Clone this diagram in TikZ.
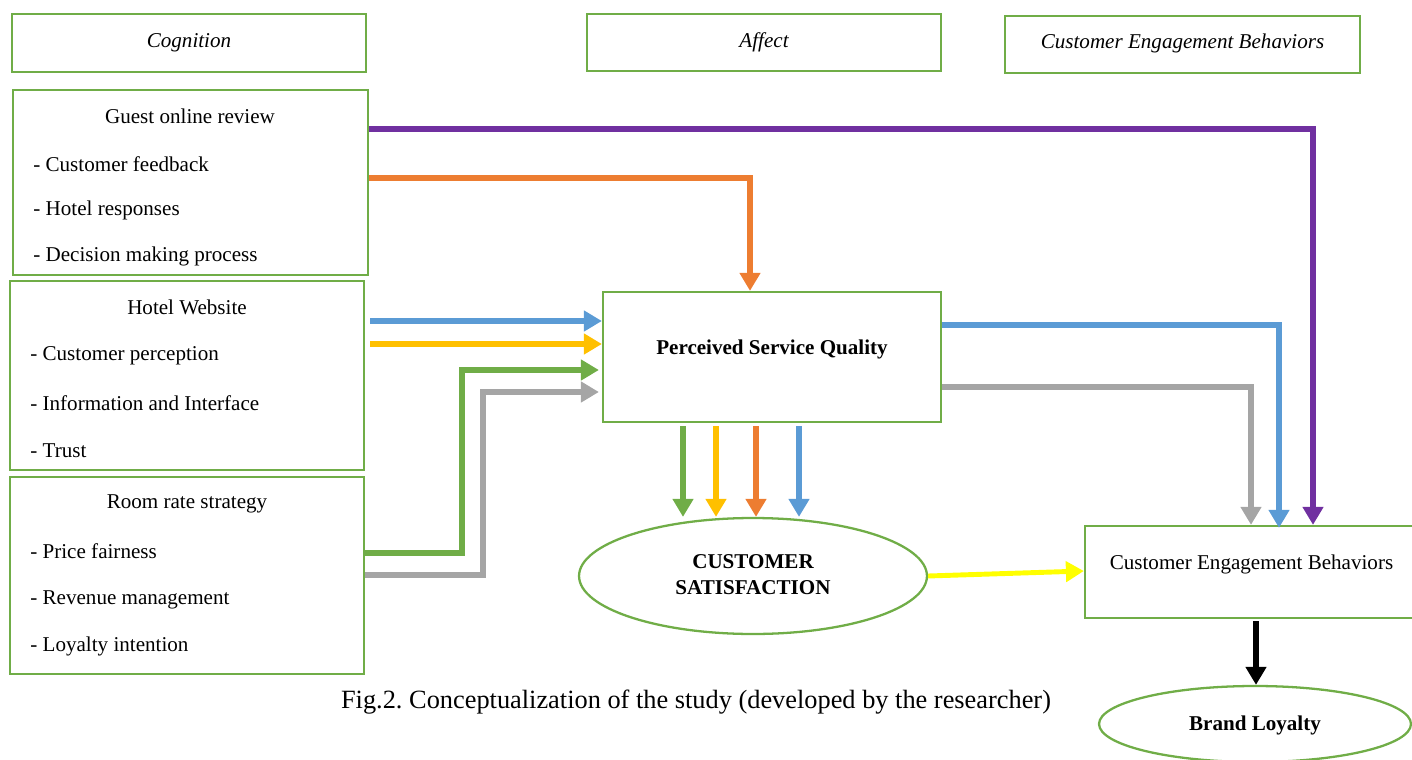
\documentclass[tikz,border=0pt]{standalone}
\usepackage{fontspec}
\setmainfont{Liberation Serif}
\usetikzlibrary{arrows.meta,shapes.geometric}
\definecolor{cgreen}{HTML}{70AD47}
\definecolor{cblue}{HTML}{5B9BD5}
\definecolor{corange}{HTML}{ED7D31}
\definecolor{cyellow}{HTML}{FFC000}
\definecolor{cgray}{HTML}{A5A5A5}
\definecolor{cpurple}{HTML}{7030A0}
\definecolor{cbright}{HTML}{FFFF00}
\frenchspacing
\tikzset{
  box/.style={draw=cgreen, line width=1.3pt, rectangle, inner sep=0pt},
  oval/.style={draw=cgreen, line width=1.3pt, ellipse, inner sep=0pt},
  txt/.style={font=\fontsize{12}{14.4}\selectfont, inner sep=0pt, yshift=-0.05cm},
  head/.style={font=\fontsize{12}{14.4}\selectfont\itshape, inner sep=0pt, yshift=-0.05cm},
  bold/.style={font=\fontsize{12}{14.8}\selectfont\bfseries, inner sep=0pt, align=center, yshift=-0.04cm},
  item/.style={txt, anchor=west},
  arr/.style={line width=3.3pt, -{Triangle[width=0.4cm,length=0.36cm]}},
}
\begin{document}
\begin{tikzpicture}[x=0.02cm, y=-0.02cm]
\useasboundingbox (0,0) rectangle (1412,760);
% header boxes
\node[box, minimum width=7.08cm, minimum height=1.16cm] (cog) at (189,43) {};
\node[head] (cogt) at (189,40) {Cognition};
\node[box, minimum width=7.08cm, minimum height=1.14cm] (aff) at (764,42.5) {};
\node[head] (afft) at (764,40) {Affect};
\node[box, minimum width=7.1cm, minimum height=1.14cm] (cebh) at (1182.5,44.5) {};
\node[head] (cebht) at (1182.5,41) {Customer Engagement Behaviors};
% left boxes
\node[box, minimum width=7.1cm, minimum height=3.7cm] (guest) at (190.5,182.5) {};
\node[txt] (g0) at (190,114) {Guest online review};
\node[item] (g1) at (33,162) {- Customer feedback};
\node[item] (g2) at (33,208) {- Hotel responses};
\node[item] (g3) at (33,254) {- Decision making process};
\node[box, minimum width=7.08cm, minimum height=3.78cm] (web) at (187,375.5) {};
\node[txt] (w0) at (187,305) {Hotel Website};
\node[item] (w1) at (30,353) {- Customer perception};
\node[item] (w2) at (30,401) {- Information and Interface};
\node[item] (w3) at (30,448) {- Trust};
\node[box, minimum width=7.08cm, minimum height=3.94cm] (room) at (187,575.5) {};
\node[txt] (r0) at (187,501) {Room rate strategy};
\node[item] (r1) at (30,549) {- Price fairness};
\node[item] (r2) at (30,597) {- Revenue management};
\node[item] (r3) at (30,644) {- Loyalty intention};
% centre
\node[box, minimum width=6.76cm, minimum height=2.6cm] (psq) at (772,357) {};
\node[bold] (psqt) at (772,347) {Perceived Service Quality};
\node[oval, minimum width=6.96cm, minimum height=2.32cm] (cs) at (753,576) {};
\node[bold] (cst) at (753,573) {CUSTOMER\\SATISFACTION};
% right
\node[box, minimum width=6.66cm, minimum height=1.84cm] (ceb) at (1251.5,572) {};
\node[txt] (cebt) at (1251.5,562) {Customer Engagement Behaviors};
\node[oval, minimum width=6.24cm, minimum height=1.52cm] (bl) at (1255,724) {};
\node[bold] (blt) at (1255,723) {Brand Loyalty};
% caption
\node[font=\fontsize{15}{17}\selectfont, inner sep=0pt, yshift=-0.05cm] (cap) at (696,700) {Fig.2. Conceptualization of the study (developed by the researcher)};
% connectors
\draw[arr, cpurple] (guest.east |- 0,129) -| (1313,0 |- ceb.north);
\draw[arr, corange] (guest.east |- 0,178) -| (750,0 |- psq.north);
\draw[arr, cblue] ([xshift=0.1cm]web.east |- 0,321) -- (psq.west |- 0,321);
\draw[arr, cyellow] ([xshift=0.1cm]web.east |- 0,344) -- (psq.west |- 0,344);
\draw[arr, cgreen, line width=3.7pt] (room.east |- 0,553) -| (462,370) -- ([xshift=-0.06cm]psq.west |- 0,370);
\draw[arr, cgray] (room.east |- 0,575) -| (483,392) -- ([xshift=-0.06cm]psq.west |- 0,392);
\draw[arr, cgreen] ([yshift=-0.06cm]683,0 |- psq.south) -- (683,0 |- cs.north);
\draw[arr, cyellow] ([yshift=-0.06cm]716,0 |- psq.south) -- (716,0 |- cs.north);
\draw[arr, corange] ([yshift=-0.06cm]756,0 |- psq.south) -- (756,0 |- cs.north);
\draw[arr, cblue] ([yshift=-0.06cm]799,0 |- psq.south) -- (799,0 |- cs.north);
\draw[arr, cblue] (psq.east |- 0,325) -| ([yshift=-0.06cm]1279,0 |- ceb.north);
\draw[arr, cgray] (psq.east |- 0,387) -| (1251,0 |- ceb.north);
\draw[arr, cbright, line width=2.8pt] (cs.east) -- (ceb.west |- 0,571);
\draw[arr, black, line width=3.7pt] ([yshift=-0.04cm]1256,0 |- ceb.south) -- (1256,0 |- bl.north);
\end{tikzpicture}
\end{document}
